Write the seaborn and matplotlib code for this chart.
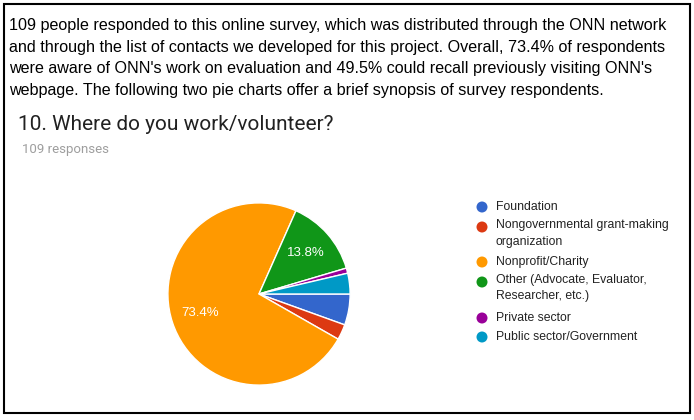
import matplotlib
matplotlib.use("Agg")
import matplotlib.pyplot as plt
import matplotlib.patches as patches
import seaborn as sns

categories = ["Foundation", "Nongovernmental grant-making\norganization", "Nonprofit/Charity",
              "Other (Advocate, Evaluator,\nResearcher, etc.)", "Private sector", "Public sector/Government"]
counts = [6, 3, 80, 15, 1, 4]
colors = ["#3366cc", "#dc3912", "#ff9900", "#109618", "#990099", "#0099c6"]

intro = ("109 people responded to this online survey, which was distributed through the ONN network\n"
         "and through the list of contacts we developed for this project. Overall, 73.4% of respondents\n"
         "were aware of ONN's work on evaluation and 49.5% could recall previously visiting ONN's\n"
         "webpage. The following two pie charts offer a brief synopsis of survey respondents.")
title = "10. Where do you work/volunteer?"
subtitle = "109 responses"

sns.set_style("white")
palette = sns.color_palette(colors)

W, H = 694, 420
fig = plt.figure(figsize=(W / 100, H / 100), dpi=100)

def px(x, y):
    return x / W, 1 - y / H

# outer frame
fig.patches.append(patches.Rectangle(px(4, 413), 686 / W, 409 / H, transform=fig.transFigure,
                                     fill=False, edgecolor="black", linewidth=1.5))

fig.text(*px(9, 58), intro, fontsize=11.6, family="Liberation Sans", color="black",
         va="center", ha="left", linespacing=1.55)
fig.text(*px(18, 124), title, fontsize=15, family="Roboto", color="#212121", va="center")
fig.text(*px(22, 150), subtitle, fontsize=9.5, family="Roboto", color="#9e9e9e", va="center")

ax = fig.add_axes([(259 - 92) / W, (H - 294 - 92) / H, 184 / W, 184 / H])
wedges, texts, autotexts = ax.pie(
    counts, colors=palette, startangle=0, counterclock=False,
    autopct=lambda p: f"{p:.1f}%" if p > 10 else "", pctdistance=0.68,
    wedgeprops=dict(edgecolor="white", linewidth=1),
    textprops=dict(color="white", fontsize=9.5, family="Liberation Sans"))
ax.set_xlim(-1.01, 1.01)
ax.set_ylim(-1.01, 1.01)

# legend
rows = [207, 227, 262, 282, 318, 337]
for label, col, y in zip(categories, palette, rows):
    fig.patches.append(patches.Ellipse(px(482, y), 11 / W, 11 / H, transform=fig.transFigure,
                                       facecolor=col, edgecolor="none"))
    if "\n" in label:
        fig.text(*px(496, y - 8), label, fontsize=8.8, family="Liberation Sans", color="#222222",
                 va="top", ha="left", linespacing=1.5)
    else:
        fig.text(*px(496, y), label, fontsize=8.8, family="Liberation Sans", color="#222222",
                 va="center", ha="left")

fig.savefig("out.png", dpi=100, facecolor="white")
